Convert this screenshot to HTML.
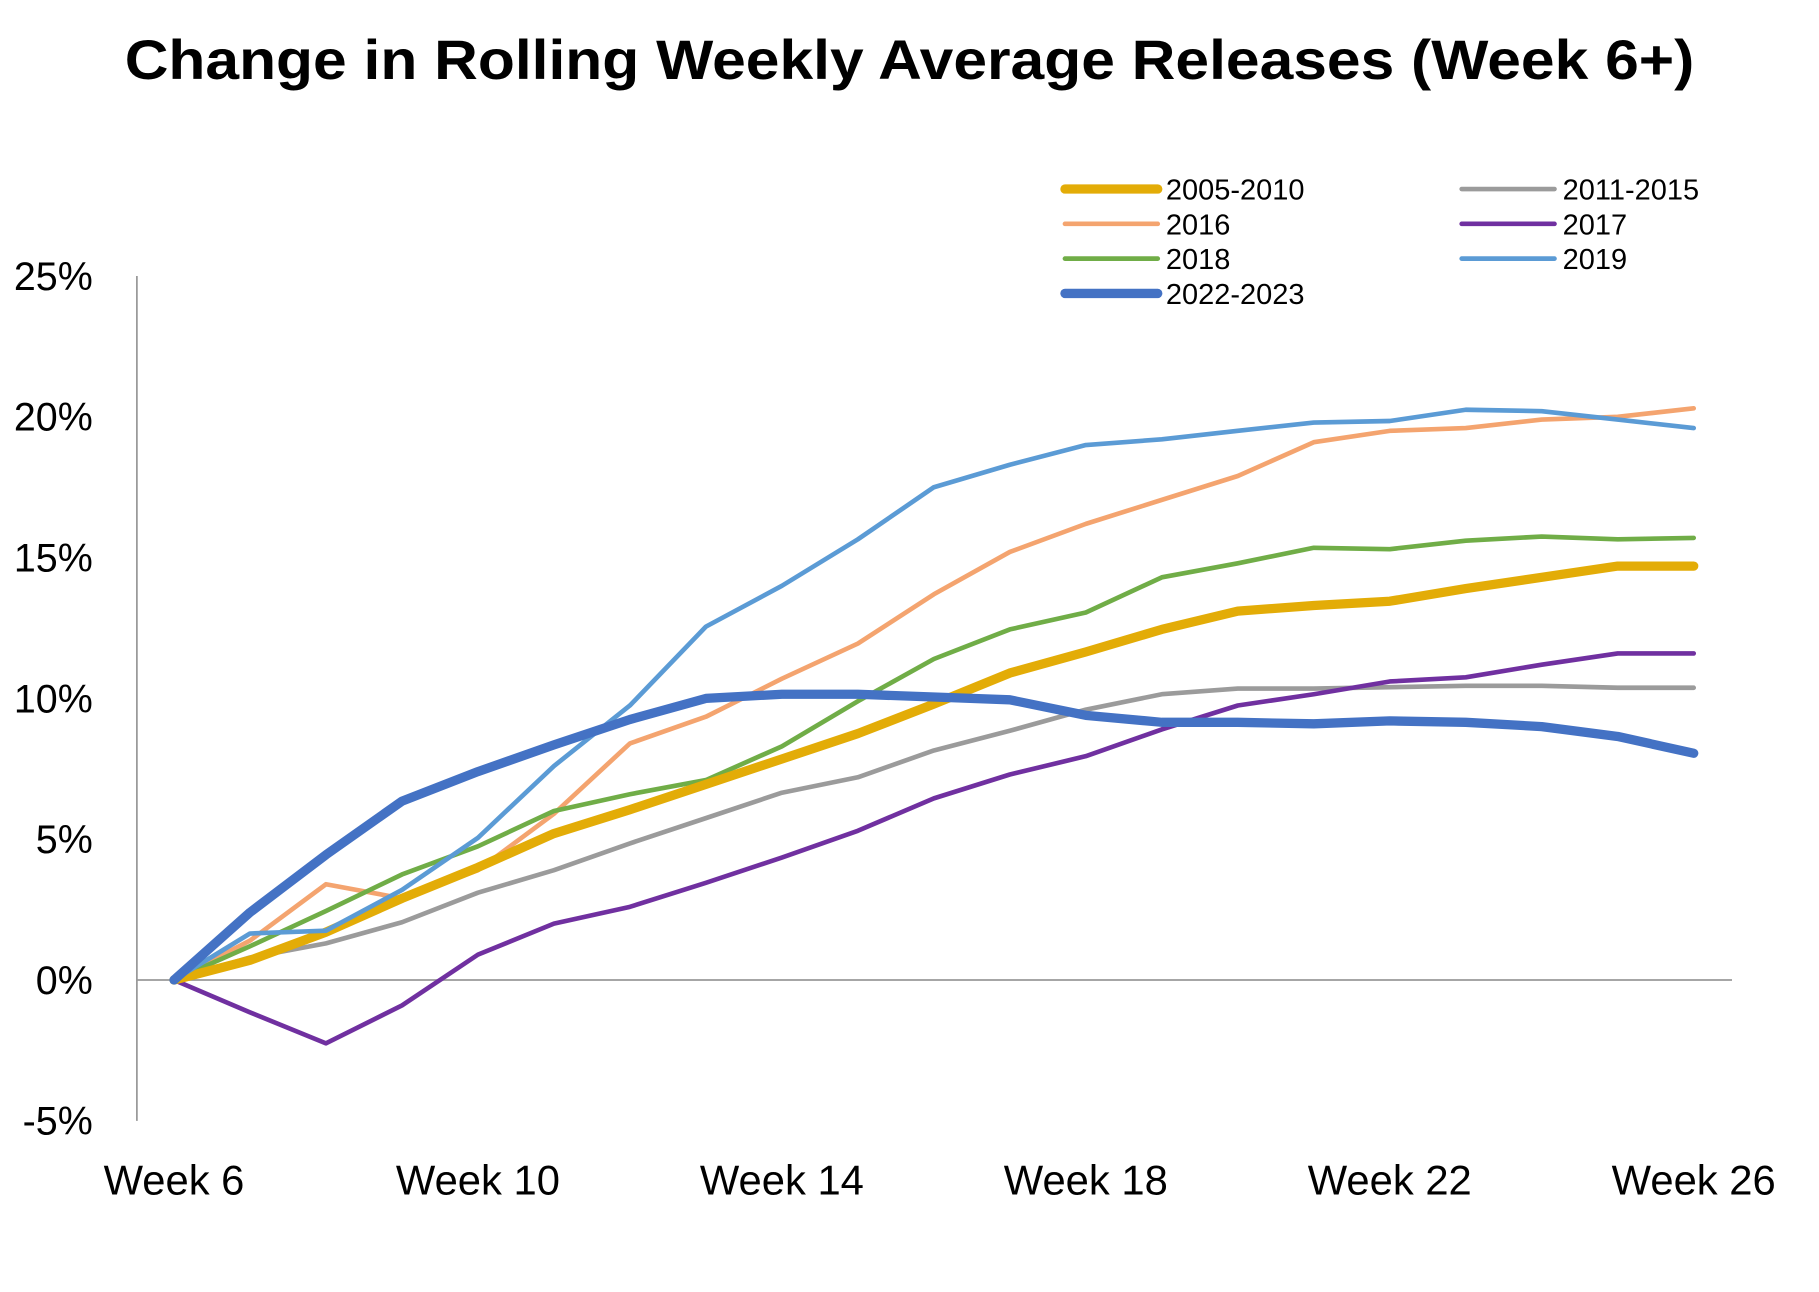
<!DOCTYPE html>
<html><head><meta charset="utf-8"><style>
html,body{margin:0;padding:0;background:#fff;}
svg{display:block;font-family:"Liberation Sans Narrow","Liberation Sans",sans-serif;}
</style></head><body>
<svg id="chart" width="1819" height="1292" viewBox="0 0 1568 1114" preserveAspectRatio="none" xmlns="http://www.w3.org/2000/svg">
<text x="784" y="68" text-anchor="middle" font-size="48" font-weight="bold" textLength="1353" lengthAdjust="spacingAndGlyphs">Change in Rolling Weekly Average Releases (Week 6+)</text>
<g id="axes"></g>
<g id="series"></g>
<g id="legend"></g>
</svg>
<script>
const weeks=[6,7,8,9,10,11,12,13,14,15,16,17,18,19,20,21,22,23,24,25,26];
const xTickLabels=["Week 6","Week 10","Week 14","Week 18","Week 22","Week 26"];
const xTickWeeks=[6,10,14,18,22,26];
const yTicks=[-5,0,5,10,15,20,25];
const seriesNames=["2005-2010","2011-2015","2016","2017","2018","2019","2022-2023"];
const s2005=[0,0.7,1.7,2.9,4.0,5.2,6.05,6.95,7.85,8.75,9.8,10.9,11.65,12.45,13.1,13.3,13.45,13.9,14.3,14.7,14.7];
const s2011=[0,0.8,1.3,2.05,3.1,3.9,4.85,5.75,6.65,7.2,8.15,8.85,9.6,10.15,10.35,10.35,10.4,10.45,10.45,10.38,10.38];
const s2016=[0,1.4,3.4,2.9,3.9,5.9,8.4,9.35,10.7,11.95,13.7,15.2,16.2,17.05,17.9,19.1,19.5,19.6,19.9,20.0,20.3];
const s2017=[0,-1.15,-2.25,-0.9,0.9,2.0,2.6,3.45,4.35,5.3,6.45,7.3,7.95,8.9,9.75,10.15,10.6,10.75,11.2,11.6,11.6];
const s2018=[0,1.2,2.45,3.75,4.75,6.0,6.6,7.1,8.3,9.9,11.4,12.45,13.05,14.3,14.8,15.35,15.3,15.6,15.75,15.65,15.7];
const s2019=[0,1.65,1.75,3.2,5.05,7.6,9.75,12.55,14.0,15.65,17.5,18.3,19.0,19.2,19.5,19.8,19.85,20.25,20.2,19.9,19.6];
const s2022=[0,2.4,4.45,6.35,7.4,8.35,9.25,10.0,10.15,10.15,10.05,9.95,9.4,9.15,9.15,9.1,9.2,9.15,9.0,8.65,8.05];

const NS="http://www.w3.org/2000/svg";
const X=w=>150+(w-6)*65.5;
const Y=v=>845-v*24.28;
function mk(tag,attrs,parent){const e=document.createElementNS(NS,tag);for(const k in attrs)e.setAttribute(k,attrs[k]);parent.appendChild(e);return e;}
const axes=document.getElementById('axes');
let e=mk('line',{x1:118,x2:118,y1:Y(25),y2:Y(-5),stroke:'#999','stroke-width':1.5},axes);


e=mk('line',{x1:118,x2:1493,y1:Y(0),y2:Y(0),stroke:'#999','stroke-width':1.5},axes);


yTicks.forEach(t=>{
  const tx=mk('text',{x:80,y:Y(t)+12,'text-anchor':'end','font-size':34},axes);
  tx.textContent=t+'%';
  
  
});
xTickWeeks.forEach((w,i)=>{
  const tx=mk('text',{x:X(w),y:1030,'text-anchor':'middle','font-size':36},axes);
  tx.textContent=xTickLabels[i];
  
  
});
const data=[s2005,s2011,s2016,s2017,s2018,s2019,s2022];
const colors=['#E3AC07','#9B9B9B','#F4A46F','#7030A0','#70AD47','#5B9BD5','#4472C4'];
const widths=[8,4,4,4,4,4,8];
const order=[1,3,2,4,0,5,6];
const sg=document.getElementById('series');
order.forEach(i=>{
  const d=data[i].map((v,j)=>(j?'L':'M')+X(weeks[j]).toFixed(1)+','+Y(v).toFixed(1)).join(' ');
  const p=mk('path',{d:d,fill:'none',stroke:colors[i],'stroke-width':widths[i],'stroke-linejoin':'round','stroke-linecap':'round'},sg);
  
  
});
const lg=document.getElementById('legend');
const lpos=[[918,163],[1260,163],[918,193],[1260,193],[918,223],[1260,223],[918,253]];
seriesNames.forEach((n,i)=>{
  const g=mk('g',{},lg);
  
  
  const [lx,ly]=lpos[i];
  mk('line',{x1:lx,x2:lx+80,y1:ly,y2:ly,stroke:colors[i],'stroke-width':widths[i],'stroke-linecap':'round'},g);
  const t=mk('text',{x:lx+87,y:ly+9,'font-size':25},g);
  t.textContent=n;
});
</script>
</body></html>
